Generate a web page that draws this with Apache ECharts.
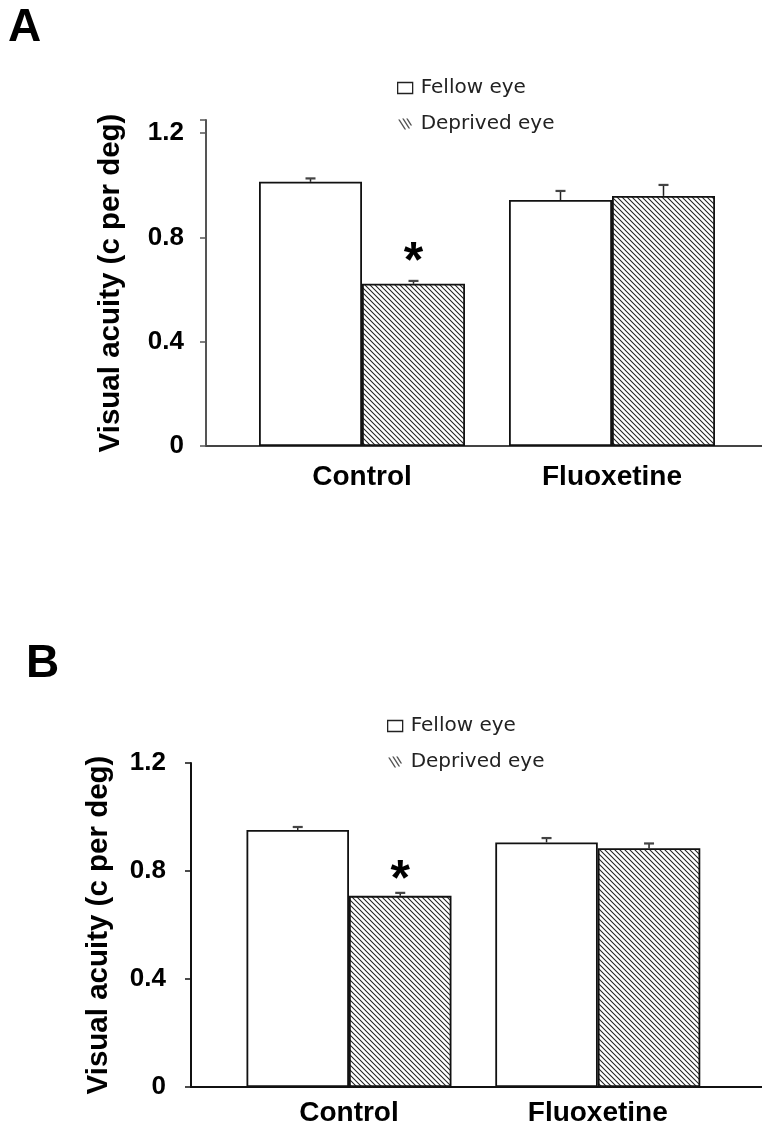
<!DOCTYPE html>
<html>
<head>
<meta charset="utf-8">
<script src="https://cdn.jsdelivr.net/npm/echarts@6/dist/echarts.min.js"></script>
<style>
  html, body { margin: 0; padding: 0; background: #fff; }
  #chart { width: 762px; height: 1129px; }
</style>
</head>
<body>
<div id="chart"></div>
<script>
// ---- data -------------------------------------------------------------
const categories = ['Control', 'Fluoxetine'];
const seriesNames = ['Fellow eye', 'Deprived eye'];
const yTickValues = [0, 0.4, 0.8, 1.2];

// Panel A
const fellowA = [1.013, 0.943];
const fellowErrA = [0.013, 0.035];
const deprivedA = [0.622, 0.959];
const deprivedErrA = [0.011, 0.042];
const markA = [true, false];

// Panel B
const fellowB = [0.952, 0.906];
const fellowErrB = [0.011, 0.016];
const deprivedB = [0.708, 0.884];
const deprivedErrB = [0.011, 0.018];
const markB = [true, false];

// ---- styling helpers --------------------------------------------------
const BAR_FRAC = 0.412;          // width of one bar, as a share of the category spacing
const BOLD = 'Liberation Sans, Arial, sans-serif';

function hatchCanvas() {
  const p = 5;
  const c = document.createElement('canvas');
  c.width = p; c.height = p;
  const ctx = c.getContext('2d');
  ctx.fillStyle = '#fff';
  ctx.fillRect(0, 0, p, p);
  ctx.strokeStyle = '#222';
  ctx.lineWidth = 1.05;
  ctx.beginPath();
  ctx.moveTo(-1, -1); ctx.lineTo(p + 1, p + 1);
  ctx.moveTo(p - 1, -1); ctx.lineTo(p + 1, 1);
  ctx.moveTo(-1, p - 1); ctx.lineTo(1, p + 1);
  ctx.stroke();
  return c;
}
const hatchFill = { image: hatchCanvas(), repeat: 'repeat' };

const hatchIcon = 'path://M0,1L1.6,1L8,11L6.4,11Z M4,0L5.6,0L12,10L10.4,10Z M8,0L9.6,0L14,7L12.4,7Z';

function barSeries(idx, name, values, fill, marks, markGap) {
  return {
    type: 'bar',
    name: name,
    xAxisIndex: idx,
    yAxisIndex: idx,
    barWidth: (BAR_FRAC * 100) + '%',
    barGap: '0%',
    silent: true,
    itemStyle: { color: fill, borderColor: '#111', borderWidth: 1.8 },
    data: values.map((v, i) => ({
      value: [i, v],
      label: marks && marks[i] ? {
        show: true,
        position: 'top',
        distance: markGap,
        formatter: '*',
        fontFamily: BOLD,
        fontWeight: 'bold',
        fontSize: 50,
        color: '#000'
      } : { show: false }
    }))
  };
}

function errorSeries(idx, values, errs, side) {
  return {
    type: 'custom',
    xAxisIndex: idx,
    yAxisIndex: idx,
    silent: true,
    z: 3,
    data: values.map((v, i) => [i, v, errs[i]]),
    renderItem: function (params, api) {
      const x = api.value(0) + side * BAR_FRAC / 2;
      const base = api.coord([x, api.value(1)]);
      const top = api.coord([x, api.value(1) + api.value(2)]);
      const half = 5;
      return {
        type: 'group',
        children: [
          { type: 'line', shape: { x1: base[0], y1: base[1], x2: top[0], y2: top[1] },
            style: { stroke: '#222', lineWidth: 1.5 } },
          { type: 'line', shape: { x1: top[0] - half, y1: top[1], x2: top[0] + half, y2: top[1] },
            style: { stroke: '#444', lineWidth: 2.2 } }
        ]
      };
    }
  };
}

function xAxisFor(idx, min, max, lineColor, labelMargin) {
  return {
    type: 'value',
    gridIndex: idx,
    min: min,
    max: max,
    splitLine: { show: false },
    axisTick: { show: false },
    axisLine: { show: true, onZero: false, lineStyle: { color: lineColor, width: 2 } },
    axisLabel: {
      customValues: categories.map((c, i) => i),
      formatter: v => categories[Math.round(v)] || '',
      margin: labelMargin,
      fontFamily: BOLD,
      fontWeight: 'bold',
      fontSize: 28,
      color: '#000'
    }
  };
}

function yAxisFor(idx, max, lineColor, labelMargin, nameGap) {
  return {
    type: 'value',
    gridIndex: idx,
    min: 0,
    max: max,
    interval: 0.4,
    name: 'Visual acuity (c per deg)',
    nameLocation: 'middle',
    nameRotate: 90,
    nameGap: nameGap,
    nameTextStyle: { fontFamily: BOLD, fontWeight: 'bold', fontSize: 29.5, color: '#000' },
    splitLine: { show: false },
    axisLine: { show: true, onZero: false, lineStyle: { color: lineColor, width: 2 } },
    axisTick: { show: true, inside: false, length: 6, lineStyle: { color: lineColor, width: 1.5 } },
    axisLabel: {
      customValues: yTickValues,
      formatter: v => String(v),
      margin: labelMargin,
      fontFamily: BOLD,
      fontWeight: 'bold',
      fontSize: 26,
      color: '#000'
    }
  };
}

function legendFor(left, top) {
  return {
    left: left,
    top: top,
    orient: 'vertical',
    selectedMode: false,
    itemWidth: 15,
    itemHeight: 11,
    itemGap: 16,
    padding: 0,
    textStyle: { fontFamily: 'DejaVu Sans, sans-serif', fontSize: 20, color: '#222', padding: [0, 0, 0, 3] },
    data: [
      { name: seriesNames[0], icon: 'rect', itemStyle: { color: '#fff', borderColor: '#222', borderWidth: 1.3 } },
      { name: seriesNames[1], icon: hatchIcon, itemStyle: { color: '#555', borderWidth: 0 } }
    ]
  };
}

const chart = echarts.init(document.getElementById('chart'), null, { renderer: 'canvas' });

chart.setOption({
  backgroundColor: '#fff',
  animation: false,
  title: [
    { text: 'A', left: 8, top: 5, padding: 0,
      textStyle: { fontFamily: BOLD, fontWeight: 'bold', fontSize: 46, color: '#000' } },
    { text: 'B', left: 26, top: 641, padding: 0,
      textStyle: { fontFamily: BOLD, fontWeight: 'bold', fontSize: 46, color: '#000' } }
  ],
  legend: [legendFor(397, 78), legendFor(387, 716)],
  grid: [
    { left: 206, top: 120, width: 556, height: 326, outerBoundsMode: 'none' },
    { left: 191, top: 763, width: 571, height: 324, outerBoundsMode: 'none' }
  ],
  xAxis: [
    xAxisFor(0, -0.624, 1.6, '#444', 17),
    xAxisFor(1, -0.635, 1.66, '#111', 12)
  ],
  yAxis: [
    yAxisFor(0, 1.25, '#555', 22, 80),
    yAxisFor(1, 1.2, '#111', 25, 77)
  ],
  series: [
    barSeries(0, seriesNames[0], fellowA, '#fff', null, 0),
    barSeries(0, seriesNames[1], deprivedA, hatchFill, markA, -4),
    errorSeries(0, fellowA, fellowErrA, -1),
    errorSeries(0, deprivedA, deprivedErrA, 1),
    barSeries(1, seriesNames[0], fellowB, '#fff', null, 0),
    barSeries(1, seriesNames[1], deprivedB, hatchFill, markB, -10),
    errorSeries(1, fellowB, fellowErrB, -1),
    errorSeries(1, deprivedB, deprivedErrB, 1)
  ]
});
</script>
</body>
</html>
